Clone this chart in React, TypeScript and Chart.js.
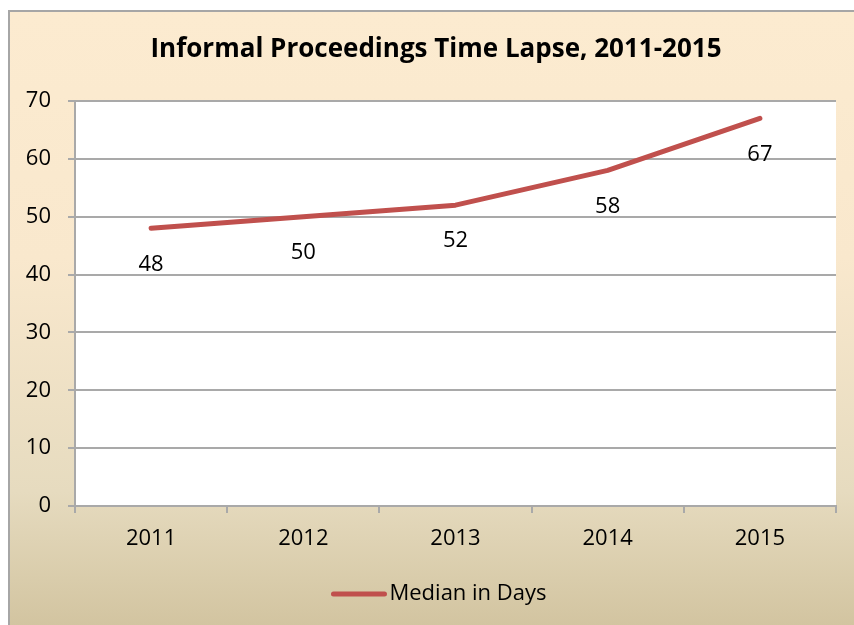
import React, { useEffect, useRef } from "react";
import { Chart, registerables } from "chart.js";

Chart.register(...registerables);

const TITLE = "Informal Proceedings Time Lapse, 2011-2015";
const CATEGORIES = ["2011", "2012", "2013", "2014", "2015"];
const SERIES_NAME = "Median in Days";
const MEDIAN_DAYS = [48, 50, 52, 58, 67];
const Y_MIN = 0;
const Y_MAX = 70;
const Y_STEP = 10;

const FONT = "'Open Sans', 'Liberation Sans', sans-serif";
const LINE_COLOR = "#C0504D";
const GRID_COLOR = "#A9A9A9";

const plotBg = {
  id: "plotBg",
  beforeDraw(chart: any) {
    const { ctx, chartArea } = chart;
    ctx.save();
    ctx.fillStyle = "#FFFFFF";
    ctx.fillRect(chartArea.left, chartArea.top, chartArea.right - chartArea.left, chartArea.bottom - chartArea.top);
    ctx.restore();
  },
};

const titlePlugin = {
  id: "titlePlugin",
  afterDraw(chart: any) {
    const { ctx } = chart;
    ctx.save();
    ctx.font = `bold 26px ${FONT}`;
    ctx.fillStyle = "#000000";
    ctx.textAlign = "center";
    ctx.textBaseline = "middle";
    ctx.fillText(TITLE, 426, 38);
    ctx.restore();
  },
};

const dataLabels = {
  id: "dataLabels",
  afterDatasetsDraw(chart: any) {
    const { ctx } = chart;
    const meta = chart.getDatasetMeta(0);
    const ds = chart.data.datasets[0];
    ctx.save();
    ctx.font = `22px ${FONT}`;
    ctx.fillStyle = "#000000";
    ctx.textAlign = "center";
    ctx.textBaseline = "middle";
    meta.data.forEach((pt: any, i: number) => {
      ctx.fillText(String(ds.data[i]), pt.x, pt.y + 36);
    });
    ctx.restore();
  },
};

const lineLegend = {
  id: "lineLegend",
  afterDraw(chart: any) {
    const { ctx } = chart;
    const ds = chart.data.datasets[0];
    ctx.save();
    ctx.font = `22px ${FONT}`;
    const tw = ctx.measureText(ds.label).width;
    const lineW = 55;
    const gap = 3;
    const total = lineW + gap + tw;
    const cx = 429;
    const y = 582;
    const x0 = cx - total / 2;
    ctx.strokeStyle = ds.borderColor;
    ctx.lineWidth = 5;
    ctx.lineCap = "round";
    ctx.beginPath();
    ctx.moveTo(x0 + 2, y);
    ctx.lineTo(x0 + lineW - 2, y);
    ctx.stroke();
    ctx.fillStyle = "#000000";
    ctx.textAlign = "left";
    ctx.textBaseline = "middle";
    ctx.fillText(ds.label, x0 + lineW + gap, y);
    ctx.restore();
  },
};

export default function App() {
  const ref = useRef<HTMLCanvasElement>(null);
  useEffect(() => {
    if (!ref.current) return;
    const chart = new Chart(ref.current, {
      type: "line",
      data: {
        labels: CATEGORIES,
        datasets: [
          {
            label: SERIES_NAME,
            data: MEDIAN_DAYS,
            borderColor: LINE_COLOR,
            backgroundColor: LINE_COLOR,
            borderWidth: 5,
            borderCapStyle: "round",
            borderJoinStyle: "round",
            pointRadius: 0,
            tension: 0,
          },
        ],
      },
      options: {
        responsive: false,
        animation: false,
        layout: { padding: { top: 89, right: 18, bottom: 0, left: 0 } },
        plugins: {
          legend: { display: false },
          tooltip: { enabled: false },
          title: { display: false },
        },
        scales: {
          x: {
            offset: true,
            grid: {
              display: true,
              drawOnChartArea: false,
              drawTicks: true,
              tickLength: 7,
              color: GRID_COLOR,
              lineWidth: 2,
              offset: true,
            },
            border: { display: true, color: GRID_COLOR, width: 2 },
            ticks: {
              color: "#000000",
              font: { family: FONT, size: 22 },
              padding: 13,
              maxRotation: 0,
            },
            afterFit(scale: any) {
              scale.height = 119;
            },
          },
          y: {
            min: Y_MIN,
            max: Y_MAX,
            ticks: {
              stepSize: Y_STEP,
              color: "#000000",
              font: { family: FONT, size: 22 },
              padding: 17,
            },
            grid: {
              color: GRID_COLOR,
              lineWidth: 2,
              tickLength: 7,
            },
            border: { display: true, color: GRID_COLOR, width: 2 },
            afterFit(scale: any) {
              scale.width = 65;
            },
          },
        },
      },
      plugins: [plotBg, dataLabels, lineLegend, titlePlugin],
    });
    return () => chart.destroy();
  }, []);

  return (
    <div
      style={{
        position: "fixed",
        left: 8,
        top: 10,
        width: 846,
        height: 615,
        borderLeft: "2px solid #A6A6A6",
        borderTop: "2px solid #A6A6A6",
        background:
          "linear-gradient(to bottom, #FCEBD0 0%, #F9E8CD 40%, #E6DBBF 78%, #D2C4A0 100%)",
        overflow: "hidden",
      }}
    >
      <canvas ref={ref} width={844} height={613} style={{ display: "block" }} />
    </div>
  );
}
